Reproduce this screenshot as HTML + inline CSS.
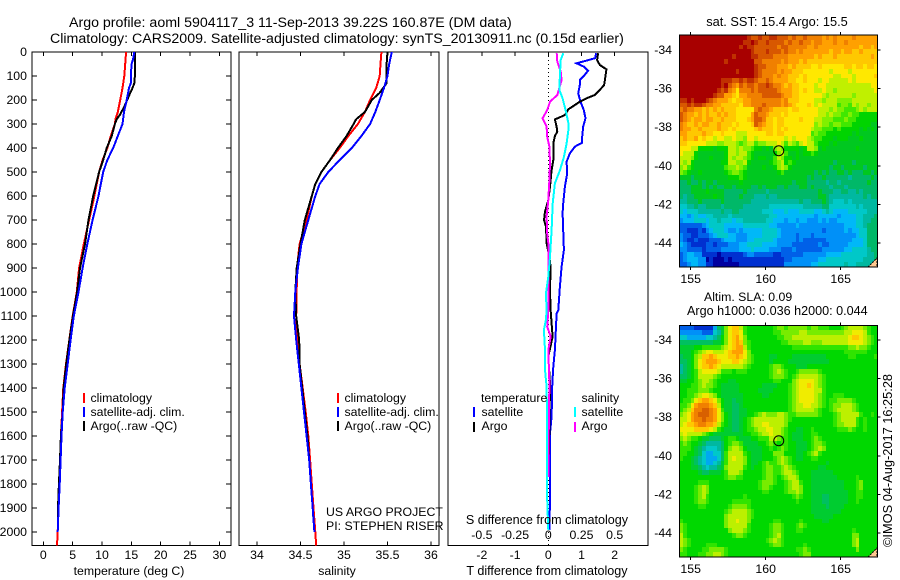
<!DOCTYPE html>
<html>
<head>
<meta charset="utf-8">
<title>Argo profile 5904117_3</title>
<style>
html,body{margin:0;padding:0;background:#fff;}
svg{display:block;}
text{font-family:"Liberation Sans",sans-serif;font-size:12.3px;fill:#000;}
text.big{font-size:14.2px;}
text.mid{font-size:12.8px;}
</style>
</head>
<body>
<svg id="chart" xmlns="http://www.w3.org/2000/svg" width="900" height="580" viewBox="0 0 900 580">
  <rect x="0" y="0" width="900" height="580" fill="#fff"/>
  <g id="maps"></g>
  <g id="panels"></g>
  <g id="labels"></g>
  <text class="big" x="69" y="27">Argo profile: aoml 5904117_3 11-Sep-2013 39.22S 160.87E (DM data)</text>
  <text class="big" x="50" y="43">Climatology: CARS2009. Satellite-adjusted climatology: synTS_20130911.nc (0.15d earlier)</text>
  <text x="129" y="575" text-anchor="middle">temperature (deg C)</text>
  <text x="337" y="575" text-anchor="middle">salinity</text>
  <text style="font-size:12.6px" x="547" y="575" text-anchor="middle">T difference from climatology</text>
  <text style="font-size:12.6px" x="547" y="524" text-anchor="middle">S difference from climatology</text>
  <text x="326" y="516">US ARGO PROJECT</text>
  <text x="326" y="530">PI: STEPHEN RISER</text>
  <text class="mid" x="777" y="26" text-anchor="middle">sat. SST: 15.4 Argo: 15.5</text>
  <text x="704" y="301">Altim. SLA: 0.09</text>
  <text style="font-size:12.6px" x="687" y="315">Argo h1000: 0.036 h2000: 0.044</text>
  <text style="font-size:12.8px" x="0" y="0" transform="translate(892,547) rotate(-90)">©IMOS 04-Aug-2017 16:25:28</text>
</svg>
<script>
// ---------- axis tick data ----------
const depthTicks = [0,100,200,300,400,500,600,700,800,900,1000,1100,1200,1300,1400,1500,1600,1700,1800,1900,2000];
const tempTicks = [0,5,10,15,20,25,30];
const salTicks = [34,34.5,35,35.5,36];
const salTickLabels = ['34','34.5','35','35.5','36'];
const diffTTicks = [-2,-1,0,1,2];
const diffSTicks = [-0.5,-0.25,0,0.25,0.5];
const diffSLabels = ['-0.5','-0.25','0','0.25','0.5'];
const lonTicks = [155,160,165];
const latTicks = [-34,-36,-38,-40,-42,-44];

// ---------- temperature profiles ----------
const climTempDepth = [0,100,150,200,250,280,300,350,400,450,500,550,600,700,800,900,1000,1100,1200,1300,1400,1500,1600,1700,1800,1900,2000,2057];
const climTemp = [14.1,13.8,13.5,13.1,12.7,12.3,12.2,11.5,10.9,10.1,9.5,9.1,8.7,7.8,6.9,6.1,5.7,5.0,4.43,3.87,3.4,3.2,3.0,2.85,2.67,2.55,2.45,2.33];
const satTempDepth = [0,30,50,100,130,150,200,250,300,350,400,450,500,550,600,700,800,900,1000,1100,1200,1300,1400,1500,1600,1700,1800,1900,2000];
const satTemp = [15.5,15.3,15.05,14.9,14.9,14.6,14.2,13.75,13.5,12.7,11.9,10.9,10.2,9.8,9.4,8.4,7.5,6.7,6.0,5.2,4.65,4.15,3.65,3.3,3.1,2.95,2.8,2.6,2.45];
const argoTempDepth = [0,100,130,150,170,200,230,260,280,300,350,400,450,500,600,700,800,900,1000,1100,1200,1300,1400,1500,1600,1700,1800,1900,1950];
const argoTemp = [15.6,15.6,15.5,15.2,14.8,14.3,13.75,13.1,12.5,12.2,11.65,10.8,10.2,9.5,8.5,7.7,7.1,6.25,5.75,5.05,4.45,3.9,3.45,3.3,3.0,2.85,2.65,2.5,2.5];

// ---------- salinity profiles ----------
const climSalDepth = [0,50,100,150,200,250,300,350,400,450,500,550,600,700,800,900,1000,1100,1200,1300,1400,1500,1600,1700,1800,1900,2000,2057];
const climSal = [35.43,35.42,35.41,35.37,35.3,35.24,35.16,35.05,34.95,34.84,34.74,34.67,34.63,34.57,34.49,34.46,34.456,34.45,34.47,34.49,34.525,34.56,34.59,34.61,34.63,34.65,34.67,34.68];
const satSalDepth = [0,50,100,150,200,250,300,350,400,450,500,550,600,700,800,900,1000,1100,1200,1300,1400,1500,1600,1700,1800,1900,2000];
const satSal = [35.55,35.52,35.5,35.46,35.41,35.36,35.3,35.2,35.09,34.95,34.82,34.72,34.67,34.59,34.51,34.47,34.44,34.425,34.45,34.48,34.51,34.54,34.57,34.6,34.62,34.64,34.66];
const argoSalDepth = [0,50,130,170,200,250,280,300,350,400,450,500,550,600,700,800,900,1000,1100,1200,1300,1400,1500,1600,1700,1800,1900,1950];
const argoSal = [35.5,35.49,35.49,35.41,35.32,35.24,35.14,35.11,35.03,34.93,34.84,34.74,34.67,34.63,34.55,34.5,34.456,34.44,34.45,34.485,34.49,34.52,34.55,34.58,34.6,34.62,34.64,34.65];

// ---------- difference profiles ----------
const satDiffTDepth = [5,26,36,47,61,78,103,117,138,172,207,242,276,311,353,378,394,422,457,506,561,631,672,742,825,894,978,1075,1089,1242,1311,1381,1519,1589,1867,1992];
const satDiffT = [1.44,1.41,1.15,0.85,1.07,1.2,1.05,0.95,0.95,0.9,0.97,1.07,1.12,1.05,1.02,1.02,0.8,0.65,0.55,0.57,0.5,0.45,0.43,0.45,0.47,0.4,0.35,0.3,0.25,0.2,0.15,0.12,0.1,0.05,0.05,0.03];
const argoDiffTDepth = [5,33,54,72,103,138,158,179,193,207,221,239,263,281,311,332,350,381,450,492,561,617,665,700,728,797,853,894,992,1075,1186,1269,1381,1589,1750];
const argoDiffT = [1.5,1.47,1.55,1.75,1.72,1.68,1.55,1.4,1.15,0.95,0.8,0.6,0.5,0.2,0.25,0.27,0.2,0.15,0.15,0.1,0.05,0,-0.1,-0.13,-0.07,-0.05,0.03,0.07,0.05,0.07,0.13,0,0.05,0.03,0];
const satDiffSDepth = [5,33,89,158,193,249,297,325,381,436,492,547,631,742,853,936,1006,1075,1117,1158,1242,1325,1394,1589,1867,1992];
const satDiffS = [0.113,0.093,0.088,0.083,0.108,0.133,0.151,0.151,0.138,0.118,0.088,0.05,0.033,0.025,0.013,0,-0.018,-0.013,-0.018,-0.033,-0.025,-0.025,-0.013,-0.008,-0.008,0];
const argoDiffSDepth = [5,40,82,117,151,179,207,242,276,311,353,394,464,533,617,686,756,811,881,964,1075,1144,1186,1242,1381,1589,1770];
const argoDiffS = [0.063,0.068,0.093,0.1,0.083,0.068,0.013,-0.008,-0.043,-0.013,-0.008,0.008,0.013,0.008,0,-0.013,-0.008,0.003,0,0,0,-0.008,0.018,0,0.008,0.003,0.003];

// ---------- map data : one character per cell, index into palette ----------
const sstPalette = {'0':'#0000a0','1':'#0030d0','2':'#0060e8','3':'#0090f8','4':'#00b8f8','5':'#00c8c8','6':'#00b8a0','7':'#00b868','8':'#00c820','9':'#00d400','A':'#40e800','B':'#80f000','C':'#c0f000','D':'#ffe800','E':'#ffc800','F':'#ffa000','G':'#f08000','H':'#d85800','I':'#c03000','J':'#a80000'};
const slaPalette = {'0':'#0000a0','1':'#0030d0','2':'#0060e8','3':'#0090f8','4':'#00a8f0','5':'#00c8c8','6':'#00b8a0','7':'#00c060','8':'#00cc30','9':'#00d800','A':'#30e400','B':'#78ec00','C':'#bcf000','D':'#f0ec00','E':'#ffc800','F':'#ffa000','G':'#f08000','H':'#d86000','I':'#c03000','J':'#a80000'};
const sstRows = [
"JJJJJJJJJJ JJJJJJJJIH HIHHIIHHHG HGGHGGGGFG FGFFFFGFFF FFF",
"JJJJJJJJJJ JJJJJJJIIJ IHHIHHHHGH GGHGGFGGFF FGFFGFFFFF FFF",
"JJJJJJJJJJ JJJJJJIJII HHHHHHGHHG GGGGFFGFFF FFFFFFFFEF FEF",
"JJJJJJJJJJ JJJJJJJJJI HHHIHHHGHG GFGFFFFFFF EFFEFFEEFE EEE",
"JJJJJJJJJJ JJJJIJJJJI IHHHHGGGGF FFFFFFEFEE EFEEEEEEEE EFE",
"JJJJJJJJJJ JJIJJJJJJJ HHGGGGGFGF FFEFEEEEEE EEEEEEEEEE EEE",
"JJJJJJJJJJ JJJJJJJJJJ IHHGGGFFFE FEEEEDDEDD DDDDEEDEED EED",
"JJJJJJJJJJ JJJJJIJJJJ IHGGGGFGFF EEEDDDDDDD CDDDDCDDDD DDD",
"JJJJJJJJJJ JJJJJJJJJJ IHGGGFGFFE EEDEDDDDDD DCCDDDCDDD DDE",
"JJJJJJJJJJ JIIIHHIHII HGGHGFFFFE EDDEDDDCDD CCCCCDCDDD DDD",
"JJJJJJJJJJ JIJHGFHGHH GHHIHGGFEF EEDDDDCDDC CCCCCCCCCC CDD",
"JJJJJJJJJJ IHIGFDGGGH GHHHHHGFFF EEDEDDCCDC CBCCCCCCCC CCD",
"JJJJJJJJJI HHFFEDFFGG GGHHHHHGFF EEDDDDDDCB CCCCCCBCCC CCC",
"IIJIJJJIHG FFFEDEEFFG GGGGGGGFGE EEDDDDCCBC CCBBBBCCCC CCC",
"HHIHIIHGGF FEEEEEDFFG GGHGGGGFGF EDDDEDCDCC CCABBACBCC BCC",
"GHGGFFEFEF EFEEEDDDDD GHGGFEEEED EEDDDDDCCC BCBBAAABCB CCC",
"HGFFEFEFEE FEFEEDDDDF HGGFEEEDED DDDDDDDCCB CBBAABAA99 999",
"HGFEFFEFFE EFEEEDDDEF HHGEEDEEDD DDEDDDCCBB BAAABAA999 999",
"GFEEFEFFEE FEEEDEDDDE HGFEEDEEDD DDDDDDBCBB ABBAAA9999 988",
"GFFEEFEEEE FEEDEDDDDD EFEEEDEDED DDDDDCBBAA A9A9999989 898",
"FFEEEEFEED DEDDDCCCDD DDDEEDEEDD DDDDDABAA9 9999998988 888",
"EFEEFDEDDC DDCCDCCBDD CDDDDDDDCD CDDDCBAA99 9899988898 888",
"EEDDDDDCCC BBCCCBABCC ABBCCCDCAC BACDCCA999 8988888888 888",
"DDDCC99998 999CCBCBBA 9989 8BCB99 9989CCB898 8888888988 888",
"DCCC988888 889CCBCCA9 88888 9BCA8 89899A9888 8888888888 888",
"CCCB988898 889CBCCBA9 899 88ACB99 8988888888 8888888888 888",
"CBC9888888 899CCBBC98 88889ABC9A 9888888888 8788887888 888",
"BCA9888888 88ABBCBA88 8898 89BCB9 8888888888 7887888887 888",
"BA98898888 889ABBA988 888888 9A88 8888887878 7788787778 878",
"8887888888 8889 99A988 8888888888 8888787787 7777767777 787",
"7787787887 8888889888 8888888888 7888777776 7767777777 877",
"7778887878 7788788887 7878887787 7788787777 6777677777 777",
"7778888988 8877777877 7776777777 7777777877 7667766767 777",
"7677888889 8877778777 6667667777 7777777887 6666666667 677",
"6677787777 7877777776 6666666666 6676677787 6555656666 666",
"5566766777 7677777666 6666555555 5556666677 5555555656 666",
"5455566666 6766776666 6655544454 4455554456 5444455555 666",
"4434544556 6665666666 6666554444 4444443444 4434444556 667",
"3444555455 6555455666 6665544434 4344333434 3344444556 677",
"2222223455 5544444555 5555443333 3433333333 3333444556 777",
"2211121345 5543343444 4455554333 3333333323 3333434455 777",
"3221122234 5554433344 4455554333 3233323333 3333333455 777",
"3211211122 2344433344 5555543333 3232222223 3333334445 777",
"4321111221 2223334455 5544443333 2222222322 3333344445 777",
"3322221222 2333334445 4444333222 3222222233 3333445555 677",
"2344331111 0111111233 2222211222 2223333334 4445555555 667",
"2344433010 0010111111 1111111122 3333333445 5555555556 667",
"2234433110 0000001111 1111111133 3333344555 5555655666 667"
];
const slaRows = [
"2222111114 78BDEECA99 99999ABBAB BBBBABBAAA 999ABCCCCB A99",
"3333332225 68BDEEDA99 99999AABBB BBCCBBBBBB BBBBCCDDDC A99",
"5544444556 79BDEFDB99 999999AABB CCCCCCCCCC CCCCCDEEDC BA9",
"7777777778 89BDEFEBA9 9999999AAB BBBCCBBBCC CCCCCDDDDC BA9",
"88889 9AAAA AB CDEFFCA9 9999999999 AAAAAAAAAA AAAAABBCBB A99",
"8889ABCDDC CCDEFFFDB9 9999999999 9999999999 9999AAAAAA 999",
"7889BCEEFE DDDEEFEDBA 99998 89999 8888888889 99999AA999 99A",
"7789BDEFFF EDDDEEDCBA 9999899998 8888888888 9999999999 999",
"6789BDEEFE DCCCCCCBA9 9999ABBA99 9888999999 9999999999 999",
"6789ACDDDD CAAA9AAA99 9999ABCBA9 9ABBBBBA99 9999999999 999",
"7789ACCCCB A999999999 9999ABBBA9 ABCCCCCBA9 9999999999 999",
"8899ABCCBA 9998899999 99999AA999 BCDDDDCBA9 9999999999 999",
"999AABCBBA 9888889999 9988889 99A BCDDEDCBA9 9999999999 999",
"99AAABBBA9 9888889999 9888899 99A BCDDDDCCA9 9999999999 999",
"99AABCDDCB 9888888999 9988999 99A BCDDDDCBA9 9AAA999999 999",
"9AABDEFFED B988788999 999999999A BCDDDDCBA9 AABBBBA999 999",
"AABDFGGGFE C988778999 999999999A BCCDDCCBA9 ABBCCCBA99 999",
"ABCEGGHHGF DA88778899 999999999A BCCCCCBA99 ABCCCCBA99 999",
"BCDFGHHHGF DB98778899 ABCBBBCCBA ABBBBBBA99 9ABCCCCCA9 9A9",
"CCDFGGHGGF DB9877 89AB CCCCCCCCBA 9999999999 9ABCCCCA9A 999",
"CDEEFGGFFE CA98778 9AB CCDDCCCCB9 9999999999 9ABBCCCA9A 999",
"DDDDEEEEDC A988778 9AA BCCDDCCBA9 9889 9A9999 99AAABA99A 999",
"CDCCCCBA98 8888888 99A ABCCDCCBA9 8889 9AA999 9999999999 999",
"BCBAA98877 789AA9888 9 9AAACCBAA9 8889 9ABA99 9999999999 999",
"ABA9987666 679ABBA888 8 99ABA9AA99 8889ABBA99 9999999999 999",
"AAA9876555 679BCCB988 8 899A9ABA99 888 9ABCB99 9999999999 999",
"AA99875445 57ACCCCA98 8 8999BBB99 9889ABCA99 9999999999 999",
"A998765444 57ACDCCB98 8 899 9ABCBA 9889 9AA999 9999999999 999",
"9998765445 68ACCCCB98 8 9ABAABCBA 9999999998 9999999999 999",
"9998876566 78BCCCCA98 99ABBAABCB A999999889 9999999999 999",
"9999987788 89ACCCB999 99ABBAABCC BA99988888 8999999999 999",
"9999999999 99ABBAA999 99ABBA9ABC CB99988888 8899999A99 999",
"99999AAA99 9999999999 9ABBBA99AB CCA9988888 8888999AB9 999",
"9999ABCB99 9999999999 9ABBA999AB CCB9988888 8888999AB9 999",
"9999ABCB99 9999999999 99AA9999AB BCB9988888 8888899AA9 999",
"9999ABCA99 9999999A99 9999999999 ABA9988877 8888899AA9 999",
"9999ABBA99 9999AAAAA9 9999999999 9A99988877 8888899A99 999",
"99999AA999 999ABBBBA9 9999999999 9999988887 8888999999 999",
"9999999999 99ABCCCCBA 9999999999 9999988888 8889999999 999",
"9999999999 99BCCCCCBA 9999999999 9999998888 8999999999 999",
"A999999999 99BCCDCCB9 99999AA999 99A9999988 9999999999 999",
"BA99999999 99BCCCCCA9 9999ABBA99 9ABA999999 9999999999 999",
"BA99999999 999BCCCBA9 9999ABBA99 9AA9999999 999999A999 999",
"CA99999999 9999ABBA99 9999ABCA99 9999999999 999999BB99 999",
"CBA9999999 9999999999 999ABCBA99 9999999999 999999BC99 999",
"CBA9999AAA 9999999999 9999ABBA99 999A999999 999999BC99 999",
"BA9999AABB BBA9999999 9999999999 9AABA99999 9999999B99 999",
"AA999AABBC CBA9999999 9999999999 99ABB99999 9999999999 999"
];

// ---------- scales ----------
const depthTop = 52, pxPerMetre = 0.24;
function yDepth(d){ return depthTop + d * pxPerMetre; }
function xTemp(t){ return 43.3 + 5.87 * t; }
function xSal(s){ return 257 + 87 * (s - 34); }
function xDiffT(t){ return 548.3 + 33.2 * t; }
function xDiffS(s){ return 548.3 + 132.8 * s; }
function xLon(lon){ return 690.7 + 15 * (lon - 155); }
function yLat(lat, y34){ return y34 + 19.3 * (-34 - lat); }

const SVGNS = 'http://www.w3.org/2000/svg';
const panelsG = document.getElementById('panels');
const labelsG = document.getElementById('labels');
const mapsG = document.getElementById('maps');

function make(tag, attrs, parent){
  const el = document.createElementNS(SVGNS, tag);
  for (const k in attrs) el.setAttribute(k, attrs[k]);
  parent.appendChild(el);
  return el;
}
function label(str, x, y, anchor){
  const el = make('text', {x:x, y:y, 'text-anchor':anchor||'middle'}, labelsG);
  el.textContent = str;
  return el;
}
function tick(x1, y1, x2, y2, parent){
  return make('line', {x1:x1, y1:y1, x2:x2, y2:y2, stroke:'#000', 'stroke-width':1, 'shape-rendering':'crispEdges'}, parent);
}
function series(xs, ds, xFn, color, width){
  const pts = xs.map(function(v,i){ return xFn(v).toFixed(1) + ',' + yDepth(ds[i]).toFixed(1); }).join(' ');
  return make('polyline', {points:pts, fill:'none', stroke:color, 'stroke-width':width, 'shape-rendering':'crispEdges'}, panelsG);
}
function frame(x, y, w, h, parent){
  return make('rect', {x:x, y:y, width:w, height:h, fill:'none', stroke:'#000', 'stroke-width':1.2, 'shape-rendering':'crispEdges'}, parent);
}
function swatch(x, y, color){
  return make('rect', {x:x, y:y, width:2, height:10, fill:color}, labelsG);
}

const pTop = 52, pBot = 545.5;

// ---------- temperature panel ----------
const fr1 = frame(32, pTop, 199, pBot - pTop, panelsG);


depthTicks.forEach(function(d){
  const a = tick(32, yDepth(d), 37, yDepth(d), panelsG);
  
  
  const b = tick(226, yDepth(d), 231, yDepth(d), panelsG);
  
  
  const t = label(String(d), 27, yDepth(d) + 4, 'end');
  
  
});
tempTicks.forEach(function(v){
  const a = tick(xTemp(v), pTop, xTemp(v), pTop + 4, panelsG);
  
  
  const b = tick(xTemp(v), pBot - 4, xTemp(v), pBot, panelsG);
  
  
  const t = label(String(v), xTemp(v), 559);
  
  
});
const s1 = series(climTemp, climTempDepth, xTemp, '#ff0000', 2);


const s2 = series(argoTemp, argoTempDepth, xTemp, '#000000', 2);


const s3 = series(satTemp, satTempDepth, xTemp, '#0000ff', 2);



// ---------- salinity panel ----------
const fr2 = frame(239, pTop, 200, pBot - pTop, panelsG);


salTicks.forEach(function(v, i){
  const a = tick(xSal(v), pTop, xSal(v), pTop + 4, panelsG);
  
  
  const b = tick(xSal(v), pBot - 4, xSal(v), pBot, panelsG);
  
  
  const t = label(salTickLabels[i], xSal(v), 559);
  
  
});
const s4 = series(climSal, climSalDepth, xSal, '#ff0000', 2);


const s5 = series(argoSal, argoSalDepth, xSal, '#000000', 2);


const s6 = series(satSal, satSalDepth, xSal, '#0000ff', 2);



// ---------- difference panel ----------
const fr3 = frame(448, pTop, 200, pBot - pTop, panelsG);


diffTTicks.forEach(function(v){
  const a = tick(xDiffT(v), pTop, xDiffT(v), pTop + 4, panelsG);
  
  
  const t = label(String(v), xDiffT(v), 559);
  
  
});
diffSTicks.forEach(function(v, i){
  const t = label(diffSLabels[i], xDiffS(v), 539);
  
  
});
const zero = make('line', {x1:xDiffT(0), y1:pTop, x2:xDiffT(0), y2:pBot, stroke:'#000', 'stroke-width':1, 'stroke-dasharray':'1 3', 'shape-rendering':'crispEdges'}, panelsG);


const s7 = series(satDiffT, satDiffTDepth, xDiffT, '#0000ff', 2);


const s8 = series(argoDiffT, argoDiffTDepth, xDiffT, '#000000', 2);


const s10 = series(argoDiffS, argoDiffSDepth, xDiffS, '#ff00ff', 2);


const s9 = series(satDiffS, satDiffSDepth, xDiffS, '#00ffff', 2);



// ---------- legends ----------
const tempLegendNames = ['climatology','satellite-adj. clim.','Argo(..raw -QC)'];
const tempLegendColors = ['#ff0000','#0000ff','#000000'];
[[83,90.5,'temperature'],[337,344.5,'salinity']].forEach(function(cfg){
  tempLegendNames.forEach(function(name, i){
    const sw = swatch(cfg[0], 393 + i * 14, tempLegendColors[i]);
    
    
    const t = label(name, cfg[1], 402 + i * 14, 'start');
    
    
  });
});
const diffHead1 = label('temperature', 481, 402, 'start');


const diffHead2 = label('salinity', 581.5, 402, 'start');


[[473,481.5,'#0000ff','satellite',0],[473,481.5,'#000000','Argo',1],[574,581.5,'#00ffff','satellite',0],[574,581.5,'#ff00ff','Argo',1]].forEach(function(cfg){
  const sw = swatch(cfg[0], 407 + cfg[4] * 15, cfg[2]);
  
  
  const t = label(cfg[3], cfg[1], 416 + cfg[4] * 14, 'start');
  
  
});

// ---------- maps ----------
function drawMap(rows, palette, top, bottom, y34, cellName, baseline, circleLat, mapName){
  const lonStart = 154.24, latStart = (y34 - top) / 19.3 - 34;
  rows.forEach(function(rawRow, r){
    const row = rawRow.replace(/ /g, '');
    const y0 = Math.round(yLat(latStart - r * 0.25, y34));
    const y1 = Math.round(yLat(latStart - (r + 1) * 0.25, y34));
    for (let c = 0; c < 53; c++){
      const code = row[c] || row[row.length - 1];
      const x0 = Math.round(xLon(lonStart + c * 0.25));
      const x1 = Math.round(xLon(lonStart + (c + 1) * 0.25));
      const cell = make('rect', {x:x0, y:y0, width:x1 - x0, height:y1 - y0, fill:palette[code], 'shape-rendering':'crispEdges'}, mapsG);
      
      
    }
  });
  const corner = make('polygon', {points:'877,'+(bottom-9)+' 877,'+bottom+' 868,'+bottom, fill:'#ffc890', stroke:'#000', 'stroke-width':1, 'stroke-dasharray':'2 1'}, mapsG);
  
  
  const fr = frame(679.5, top, 198, bottom - top, mapsG);
  
  
  lonTicks.forEach(function(lon){
    const a = tick(xLon(lon), top - 3, xLon(lon), top, mapsG);
    
    
    const b = tick(xLon(lon), bottom, xLon(lon), bottom + 3, mapsG);
    
    
    const t = label(String(lon), xLon(lon), baseline);
    
    
  });
  latTicks.forEach(function(lat){
    const a = tick(877.5, yLat(lat, y34), 880.5, yLat(lat, y34), mapsG);
    
    
    const t = label(String(lat), 672, yLat(lat, y34) + 4, 'end');
    
    
  });
  const marker = make('circle', {cx:xLon(160.87), cy:yLat(circleLat, y34), r:5, fill:'none', stroke:'#000', 'stroke-width':1}, mapsG);
  
  
}
drawMap(sstRows, sstPalette, 35, 267, 50, 'sst-cell', 283, -39.22, 'sst-map');
drawMap(slaRows, slaPalette, 325.5, 557, 340, 'sla-cell', 573, -39.22, 'sla-map');
</script>
</body>
</html>
